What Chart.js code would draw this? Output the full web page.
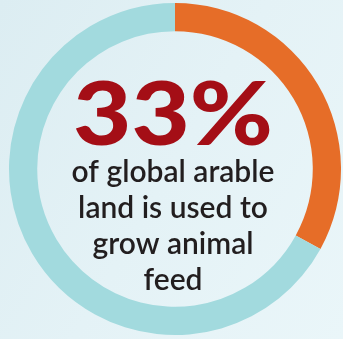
<!DOCTYPE html>
<html>
<head>
<meta charset="utf-8">
<script src="https://cdn.jsdelivr.net/npm/chart.js@4"></script>
<style>
  html, body { margin: 0; padding: 0; }
  body {
    width: 343px; height: 339px; overflow: hidden;
    background: linear-gradient(120deg, #dcedf2 0%, #e4f2f6 50%, #eaf6f9 100%);
  }
  #wrap { position: relative; width: 343px; height: 339px; }
</style>
</head>
<body>
<div id="wrap"><canvas id="c"></canvas></div>
<script>
// Share of global arable land: animal feed vs. everything else
const categories = ['Animal feed', 'Other uses'];
const shares = [33, 67];
const ringColors = ['#e66d28', '#a2dade'];
const captionLines = ['of global arable', 'land is used to', 'grow animal', 'feed'];

const centerText = {
  id: 'centerText',
  afterDraw(chart) {
    const ctx = chart.ctx;
    const x = 173;
    ctx.save();
    ctx.textAlign = 'center';
    ctx.textBaseline = 'alphabetic';

    // big percentage, widened to the heavy display face width
    const pct = shares[0] + '%';
    ctx.fillStyle = '#a40e16';
    ctx.font = '900 88px Lato';
    const sx = 200 / ctx.measureText(pct).width;
    ctx.save();
    ctx.translate(x, 145);
    ctx.scale(sx, 1);
    ctx.fillText(pct, 0, 0);
    ctx.restore();

    ctx.fillStyle = '#221e1f';
    ctx.font = '600 30px Lato';
    captionLines.forEach((line, i) => ctx.fillText(line, x, 181.5 + i * 36));
    ctx.restore();
  }
};

new Chart(document.getElementById('c'), {
  type: 'doughnut',
  data: {
    labels: categories,
    datasets: [{
      data: shares,
      backgroundColor: ringColors,
      borderWidth: 0,
      hoverOffset: 0
    }]
  },
  options: {
    responsive: true,
    maintainAspectRatio: false,
    animation: false,
    cutout: '83%',
    rotation: 0,
    layout: { padding: { left: 9, right: 2, top: 3, bottom: 4 } },
    plugins: { legend: { display: false }, tooltip: { enabled: false } },
    events: []
  },
  plugins: [centerText]
});
</script>
</body>
</html>
